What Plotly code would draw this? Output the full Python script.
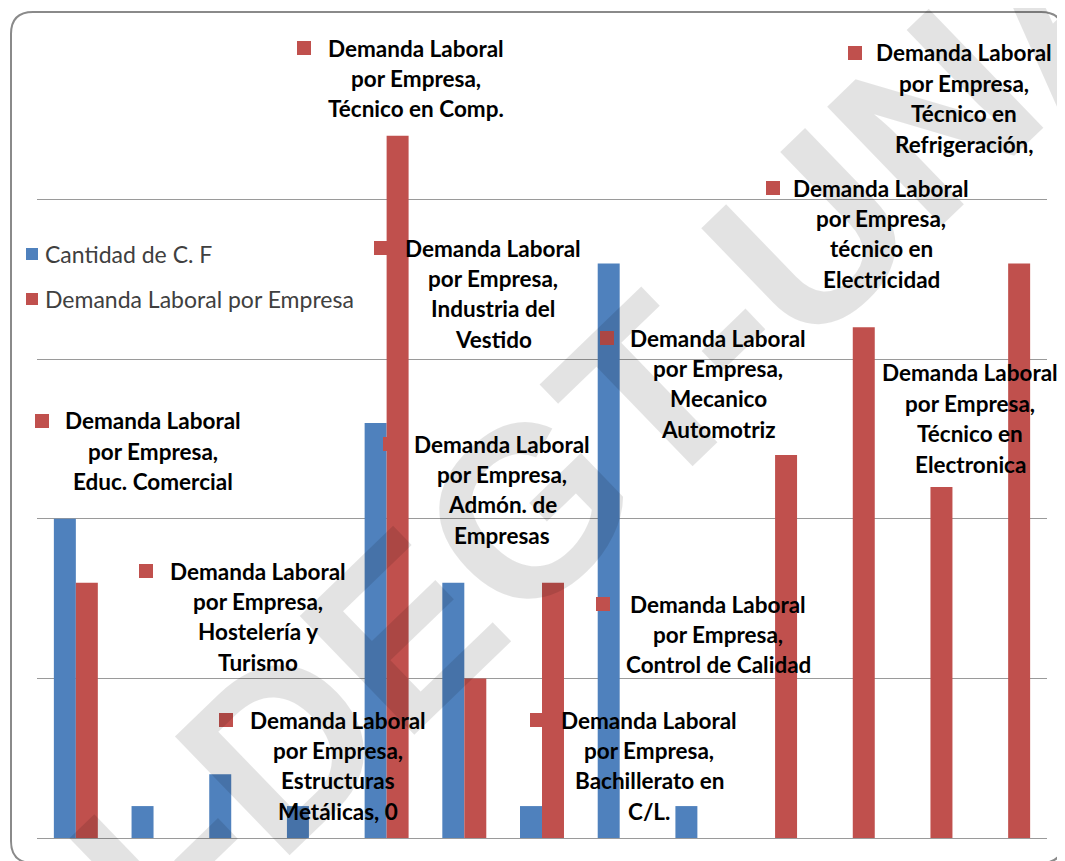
import plotly.graph_objects as go

# ---------------- data ----------------
categories = [
    "Educ. Comercial", "Hostelería y Turismo", "Industria del Vestido",
    "Estructuras Metálicas", "Técnico en Comp.", "Admón. de Empresas",
    "Categoría 7", "Bachillerato en C/L.", "Control de Calidad",
    "Mecanico Automotriz", "técnico en Electricidad", "Técnico en Electronica",
    "Técnico en Refrigeración",
]
cantidad_cf = [10, 1, 2, 1, 13, 8, 1, 18, 1, 0, 0, 0, 0]
demanda_laboral = [8, 0, 0, 0, 22, 5, 8, 0, 0, 12, 16, 11, 18]
series_names = ["Cantidad de C. F", "Demanda Laboral por Empresa"]

# data-label texts (as wrapped in the original)
label_lines = [
    ["Demanda Laboral", "por Empresa,", "Técnico en Comp."],
    ["Demanda Laboral", "por Empresa,", "Técnico en", "Refrigeración,"],
    ["Demanda Laboral", "por Empresa,", "técnico en", "Electricidad"],
    ["Demanda Laboral", "por Empresa,", "Industria del", "Vestido"],
    ["Demanda Laboral", "por Empresa,", "Mecanico", "Automotriz"],
    ["Demanda Laboral", "por Empresa,", "Técnico en", "Electronica"],
    ["Demanda Laboral", "por Empresa,", "Educ. Comercial"],
    ["Demanda Laboral", "por Empresa,", "Admón. de", "Empresas"],
    ["Demanda Laboral", "por Empresa,", "Hostelería y", "Turismo"],
    ["Demanda Laboral", "por Empresa,", "Control de Calidad"],
    ["Demanda Laboral", "por Empresa,", "Estructuras", "Metálicas, 0"],
    ["Demanda Laboral", "por Empresa,", "Bachillerato en", "C/L."],
]
# label placement in page pixels: (text centre x, first line y, key x)
label_pos = [
    (416, 48, 304), (964, 53, 855), (881, 188, 773), (493, 248, 381),
    (718, 338, 607), (970, 373, 864), (153, 421, 42), (502, 444, 390),
    (258, 571, 146), (718, 604, 603), (338, 720, 226), (649, 720, 537),
]

# ---------------- layout geometry (page pixels; body margin = 8) ----------------
OFF = 8
PAGE_W, PAGE_H = 1065, 861
W, H = PAGE_W - OFF, PAGE_H - OFF
ML, MR, MT, MB = 37 - OFF, 18, 40 - OFF, 23
PW, PH = W - ML - MR, H - MT - MB
BLUE, RED = "#4F81BD", "#C0504D"
LINE_H = 30.4


def fx(px):
    return (px - OFF - ML) / PW


def fy(py):
    return (PAGE_H - MB - py) / PH


fig = go.Figure()
fig.add_trace(go.Bar(x=categories, y=cantidad_cf, name=series_names[0],
                     marker=dict(color=BLUE, line=dict(width=0))))
fig.add_trace(go.Bar(x=categories, y=demanda_laboral, name=series_names[1],
                     marker=dict(color=RED, line=dict(width=0))))

annotations = []
shapes = []

# watermark
annotations.append(dict(
    text="IDI-DEGT-UNAN", xref="paper", yref="paper",
    x=fx(594), y=fy(446), showarrow=False, textangle=-44,
    font=dict(family="Liberation Sans", size=240, color="rgba(0,0,0,0.11)",
              weight="bold"),
    xanchor="center", yanchor="middle"))

# data labels
for lines, (cx, y1, kx) in zip(label_lines, label_pos):
    for i, t in enumerate(lines):
        annotations.append(dict(
            text=t, xref="paper", yref="paper", x=fx(cx), y=fy(y1 + i * LINE_H),
            showarrow=False, xanchor="center", yanchor="middle",
            font=dict(family="Lato", size=22.5, color="#000000", weight="bold")))
    shapes.append(dict(type="rect", xref="paper", yref="paper",
                       x0=fx(kx - 7), x1=fx(kx + 7), y0=fy(y1 - 7), y1=fy(y1 + 7),
                       fillcolor=RED, line=dict(width=0), layer="above"))

# legend (manual, as in the original)
for name, col, ly in zip(series_names, [BLUE, RED], [254, 299]):
    shapes.append(dict(type="rect", xref="paper", yref="paper",
                       x0=fx(26), x1=fx(38), y0=fy(ly - 6), y1=fy(ly + 6),
                       fillcolor=col, line=dict(width=0), layer="above"))
    annotations.append(dict(
        text=name, xref="paper", yref="paper", x=fx(43), y=fy(ly),
        showarrow=False, xanchor="left", yanchor="middle",
        font=dict(family="Lato", size=23, color="#404040")))

# rounded chart frame
x0, x1, y0, y1, r = 11, 1063, 12, 863, 22
path = (f"M {fx(x0 + r)},{fy(y0)} L {fx(x1 - r)},{fy(y0)} "
        f"Q {fx(x1)},{fy(y0)} {fx(x1)},{fy(y0 + r)} "
        f"L {fx(x1)},{fy(y1 - r)} Q {fx(x1)},{fy(y1)} {fx(x1 - r)},{fy(y1)} "
        f"L {fx(x0 + r)},{fy(y1)} Q {fx(x0)},{fy(y1)} {fx(x0)},{fy(y1 - r)} "
        f"L {fx(x0)},{fy(y0 + r)} Q {fx(x0)},{fy(y0)} {fx(x0 + r)},{fy(y0)} Z")
shapes.append(dict(type="path", path=path, xref="paper", yref="paper",
                   line=dict(color="#8A8A8A", width=2), layer="below"))

fig.update_layout(
    width=W, height=H,
    margin=dict(l=ML, r=MR, t=MT, b=MB),
    paper_bgcolor="white", plot_bgcolor="white",
    barmode="group", bargap=0.434, bargroupgap=0,
    showlegend=False,
    xaxis=dict(showticklabels=False, showgrid=False, zeroline=False,
               showline=False, ticks=""),
    yaxis=dict(range=[0, 25.002], dtick=5, showticklabels=False,
               showgrid=True, gridcolor="#9A9A9A", gridwidth=1.3,
               zeroline=True, zerolinecolor="#9A9A9A", zerolinewidth=1.3,
               showline=False, ticks=""),
    annotations=annotations, shapes=shapes,
)

fig.write_html("out.html")
